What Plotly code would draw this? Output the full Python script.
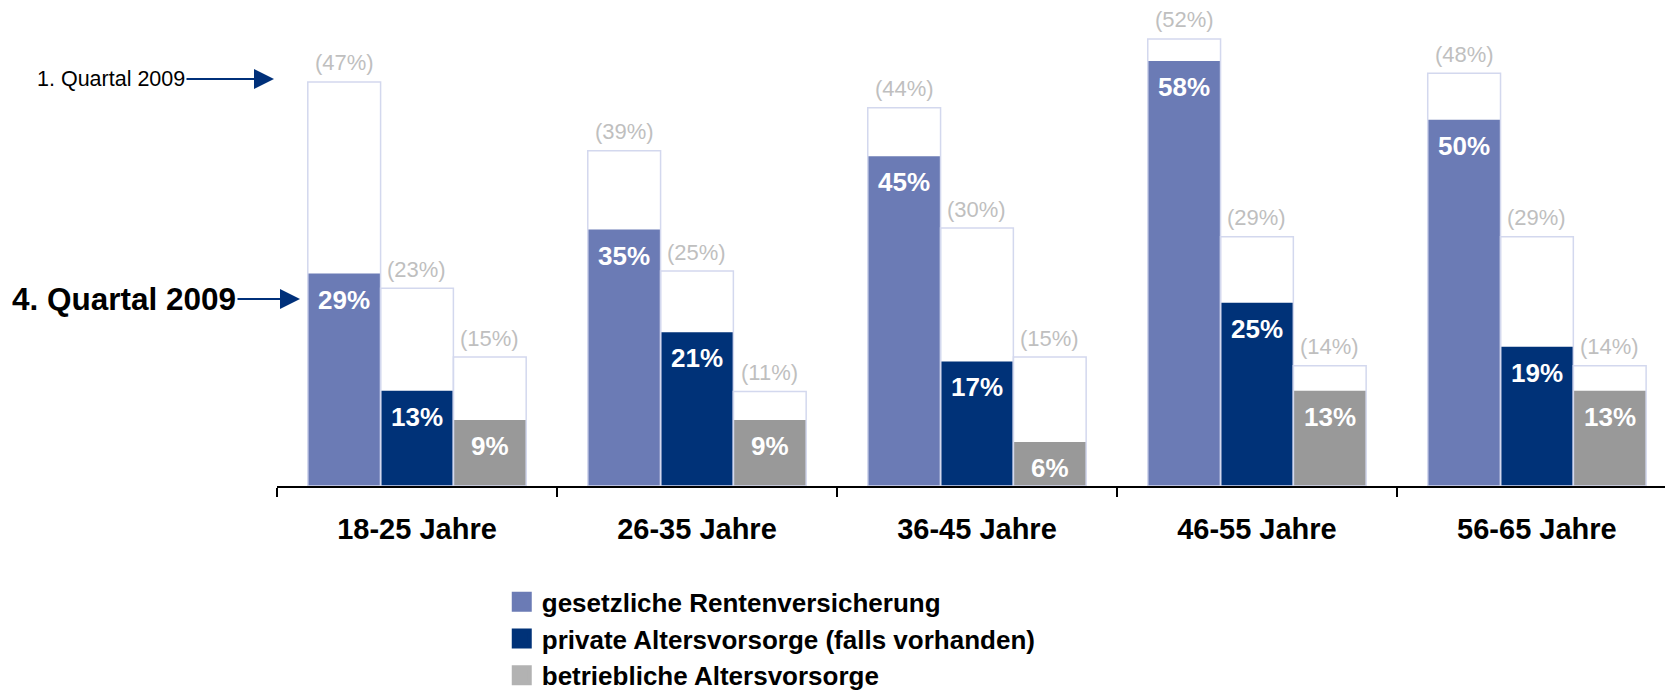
import plotly.graph_objs as go

categories = ["18-25 Jahre", "26-35 Jahre", "36-45 Jahre", "46-55 Jahre", "56-65 Jahre"]
series_names = ["gesetzliche Rentenversicherung", "private Altersvorsorge (falls vorhanden)",
                "betriebliche Altersvorsorge"]

# 4. Quartal 2009 (filled bars)
q4_gesetzlich = [29, 35, 45, 58, 50]
q4_privat = [13, 21, 17, 25, 19]
q4_betrieblich = [9, 9, 6, 13, 13]

# 1. Quartal 2009 (outline bars, values in brackets)
q1_gesetzlich = [47, 39, 44, 52, 48]
q1_privat = [23, 25, 30, 29, 29]
q1_betrieblich = [15, 11, 15, 14, 14]

q4 = [q4_gesetzlich, q4_privat, q4_betrieblich]
q1 = [q1_gesetzlich, q1_privat, q1_betrieblich]

colors = ["#6b7bb5", "#003278", "#999999"]
legend_colors = ["#6b7bb5", "#003278", "#b2b2b2"]
outline_color = "#d3d8ee"
font = "Arial, 'Liberation Sans', sans-serif"

# the page body has an 8px margin, so the figure is a bit smaller than the window
W, H = 1665, 682
ML, MR, MT, MB = 269, 0, 12, 204
plot_w = W - ML - MR
plot_h = H - MT - MB
x_range = [-0.5, 4.486]
cat_px = plot_w / (x_range[1] - x_range[0])

offsets = [-0.39, -0.13, 0.13]
bar_w = 0.26

fig = go.Figure()

# filled bars (4. Quartal) on y
for i in range(3):
    fig.add_trace(go.Bar(x=categories, y=q4[i], name=series_names[i], yaxis="y",
                         offset=offsets[i], width=bar_w, showlegend=False,
                         marker=dict(color=colors[i], line=dict(width=0)),
                         hoverinfo="skip"))

# outline bars (1. Quartal) on y2, drawn on top
for i in range(3):
    fig.add_trace(go.Bar(x=categories, y=q1[i], name=series_names[i], yaxis="y2",
                         offset=offsets[i], width=bar_w, showlegend=False,
                         marker=dict(color="rgba(0,0,0,0)", line=dict(color=outline_color, width=1.5)),
                         hoverinfo="skip"))

# legend entries
for i in range(3):
    fig.add_trace(go.Scatter(x=[None], y=[None], mode="markers", name=series_names[i],
                             marker=dict(symbol="square", size=16, color=legend_colors[i],
                                         line=dict(color=legend_colors[i], width=4))))

annotations = []
for i in range(3):
    shift = (offsets[i] + bar_w / 2) * cat_px
    for j, cat in enumerate(categories):
        annotations.append(dict(x=cat, y=q4[i][j], xref="x", yref="y", xshift=shift, yshift=-26,
                                text=f"{q4[i][j]}%", showarrow=False,
                                font=dict(family=font, size=26, color="white", weight="bold")))
        annotations.append(dict(x=cat, y=q1[i][j], xref="x", yref="y2", xshift=shift, yshift=19,
                                text=f"({q1[i][j]}%)", showarrow=False,
                                font=dict(family=font, size=22, color="#bfbfbf")))

# arrow tips, in pixels from the plot area's left / bottom edge
annotations.append(dict(x=-3 / plot_w, y=407 / plot_h,
                        xref="paper", yref="paper", text="1. Quartal 2009",
                        showarrow=True, ax=-163, ay=0, arrowhead=2, arrowsize=2, arrowwidth=2,
                        arrowcolor="#00307a", font=dict(family=font, size=21.5, color="black")))
annotations.append(dict(x=23 / plot_w, y=187 / plot_h,
                        xref="paper", yref="paper", text="4. Quartal 2009",
                        showarrow=True, ax=-176, ay=0, arrowhead=2, arrowsize=2, arrowwidth=2,
                        arrowcolor="#00307a",
                        font=dict(family=font, size=31.5, color="black", weight="bold")))

fig.update_layout(
    width=W, height=H,
    margin=dict(l=ML, r=MR, t=MT, b=MB, autoexpand=False),
    paper_bgcolor="white", plot_bgcolor="white",
    barmode="overlay",
    font=dict(family=font, color="black"),
    xaxis=dict(type="category", categoryorder="array", categoryarray=categories,
               range=x_range, showgrid=False, zeroline=False, automargin=False,
               showline=True, linecolor="black", linewidth=2,
               ticks="outside", tickson="boundaries", ticklen=9, tickwidth=1.5, tickcolor="black",
               ticklabelstandoff=16,
               tickfont=dict(family=font, size=29, color="black", weight="bold")),
    yaxis=dict(range=[0, 63.6], visible=False),
    yaxis2=dict(range=[0, 54.2], overlaying="y", visible=False),
    legend=dict(x=0.161, y=-0.198, xanchor="left", yanchor="top", itemsizing="trace",
                bgcolor="rgba(0,0,0,0)",
                font=dict(family=font, size=26, color="black", weight="bold")),
    annotations=annotations,
)

fig.write_html("out.html")
